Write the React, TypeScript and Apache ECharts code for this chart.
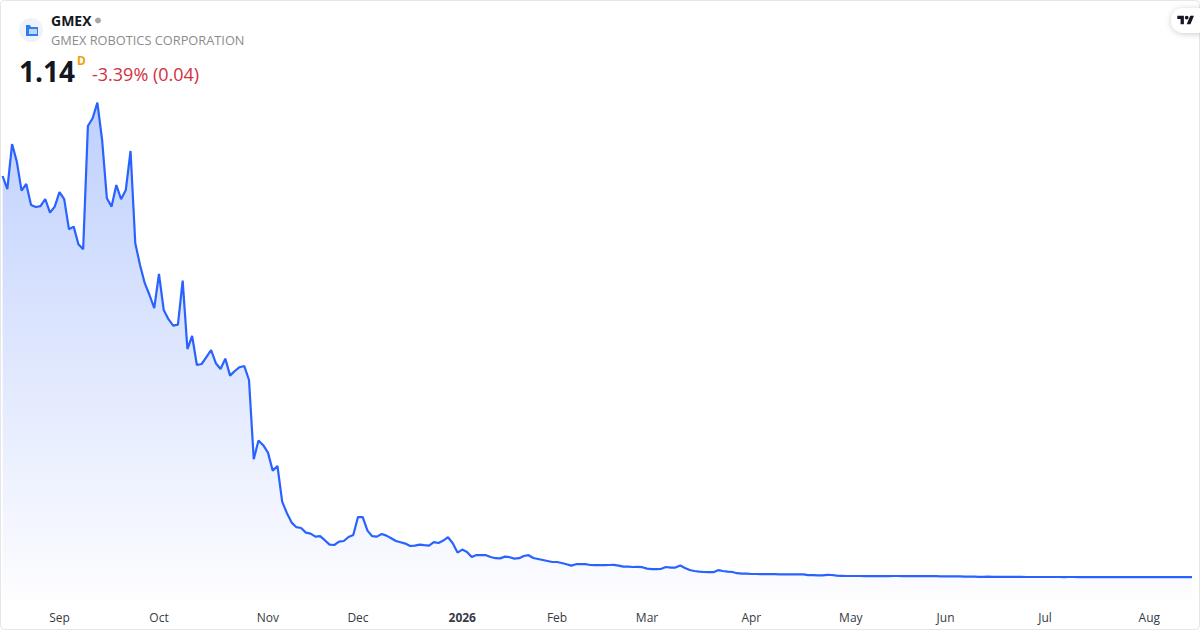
import React, { useEffect, useRef } from "react";
import * as echarts from "echarts";

const SYMBOL = "GMEX";
const COMPANY = "GMEX ROBOTICS CORPORATION";
const LAST_PRICE = "1.14";
const INTERVAL = "D";
const CHANGE = "-3.39% (0.04)";
const MONTHS = ["Jan", "Feb", "Mar", "Apr", "May", "Jun", "Jul", "Aug", "Sep", "Oct", "Nov", "Dec"];
const HOLIDAYS = ["2025-09-01", "2025-11-27", "2025-12-25", "2026-01-01", "2026-01-19", "2026-02-16", "2026-04-03", "2026-05-25", "2026-06-19", "2026-07-03"];
const FIRST_DAY = "2025-08-14";

const prices = [
  21.2, 20.54, 22.8, 21.92, 20.47, 20.8, 19.75, 19.65, 19.69, 20.05,
  19.37, 19.67, 20.39, 20.04, 18.54, 18.67, 17.79, 17.54, 23.7, 24.09,
  24.87, 23.0, 20.09, 19.67, 20.75, 20.04, 20.5, 22.45, 17.84, 16.75,
  15.84, 15.25, 14.59, 16.3, 14.5, 14.04, 13.72, 13.77, 15.97, 12.55,
  13.2, 11.75, 11.8, 12.14, 12.5, 11.84, 11.55, 12.07, 11.22, 11.45,
  11.64, 11.7, 11.0, 7.04, 7.97, 7.74, 7.37, 6.47, 6.7, 4.92,
  4.34, 3.87, 3.64, 3.6, 3.37, 3.32, 3.17, 3.19, 2.99, 2.77,
  2.75, 2.92, 2.95, 3.15, 3.25, 4.15, 4.14, 3.47, 3.19, 3.17,
  3.3, 3.22, 3.09, 2.95, 2.89, 2.82, 2.7, 2.72, 2.77, 2.74,
  2.72, 2.89, 2.85, 2.97, 3.14, 2.84, 2.37, 2.52, 2.4, 2.15,
  2.25, 2.24, 2.24, 2.15, 2.09, 2.08, 2.17, 2.14, 2.07, 2.09,
  2.2, 2.24, 2.1, 2.05, 2.0, 1.95, 1.9, 1.9, 1.85, 1.79,
  1.72, 1.79, 1.8, 1.79, 1.75, 1.74, 1.74, 1.74, 1.75, 1.76,
  1.72, 1.67, 1.67, 1.65, 1.66, 1.64, 1.57, 1.54, 1.54, 1.56,
  1.65, 1.62, 1.62, 1.72, 1.6, 1.5, 1.45, 1.42, 1.4, 1.39,
  1.39, 1.49, 1.45, 1.42, 1.4, 1.34, 1.32, 1.32, 1.3, 1.3,
  1.29, 1.29, 1.29, 1.29, 1.28, 1.28, 1.28, 1.28, 1.28, 1.28,
  1.24, 1.24, 1.23, 1.23, 1.26, 1.25, 1.22, 1.21, 1.2, 1.2,
  1.2, 1.2, 1.19, 1.19, 1.19, 1.2, 1.19, 1.19, 1.2, 1.2,
  1.19, 1.19, 1.19, 1.19, 1.2, 1.19, 1.19, 1.19, 1.18, 1.18,
  1.18, 1.18, 1.18, 1.17, 1.17, 1.17, 1.16, 1.16, 1.17, 1.16,
  1.16, 1.16, 1.16, 1.16, 1.16, 1.16, 1.15, 1.15, 1.15, 1.15,
  1.15, 1.15, 1.15, 1.15, 1.14, 1.15, 1.15, 1.14, 1.14, 1.14,
  1.14, 1.14, 1.14, 1.14, 1.14, 1.14, 1.14, 1.14, 1.14, 1.14,
  1.14, 1.14, 1.14, 1.14, 1.14, 1.14, 1.14, 1.14, 1.14, 1.14, 1.14, 1.14,
];

const iso = (d: Date) => d.toISOString().slice(0, 10);

// Trading days, one per price
const tradingDays: string[] = [];
for (let d = new Date(FIRST_DAY + "T00:00:00Z"); tradingDays.length < prices.length; d = new Date(d.getTime() + 86400000)) {
  const wd = d.getUTCDay();
  if (wd !== 0 && wd !== 6 && !HOLIDAYS.includes(iso(d))) tradingDays.push(iso(d));
}
const isMonthStart = (i: number) => i > 0 && tradingDays[i].slice(0, 7) !== tradingDays[i - 1].slice(0, 7);

const FONT = '"Open Sans", "Noto Sans", sans-serif';

echarts.graphic.registerShape(
  "tvLogo",
  echarts.graphic.extendPath("M14 22H7V11H0V4h14v18zM28 22h-8l7.5-18h8L28 22zM24 8a4 4 0 1 1-8 0 4 4 0 0 1 8 0z", {})
);

export default function App() {
  const ref = useRef<HTMLDivElement>(null);
  useEffect(() => {
    document.body.style.margin = "0";
    const chart = echarts.init(ref.current!, undefined, { renderer: "svg" });
    chart.setOption({
      animation: false,
      backgroundColor: "#ffffff",
      grid: { left: 2.6, right: 8, top: 0, bottom: 30 },
      xAxis: {
        type: "category",
        boundaryGap: false,
        data: tradingDays,
        axisLine: { show: false },
        axisTick: { show: false },
        splitLine: { show: false },
        axisLabel: {
          interval: (i: number) => isMonthStart(i),
          margin: 11,
          color: "#363a45",
          fontFamily: FONT,
          fontSize: 12,
          formatter: (v: string) => {
            const [y, m] = v.split("-");
            return m === "01" ? `{year|${y}}` : MONTHS[Number(m) - 1];
          },
          rich: { year: { fontWeight: "bold", fontSize: 12, fontFamily: FONT, color: "#363a45" } },
        },
      },
      yAxis: { type: "value", min: 0, max: 30, show: false, splitLine: { show: false } },
      series: [
        {
          type: "line",
          data: prices,
          symbol: "none",
          smooth: false,
          lineStyle: { color: "#2962ff", width: 2.2 },
          areaStyle: {
            origin: "start",
            opacity: 1,
            color: {
              type: "linear", x: 0, y: 0, x2: 0, y2: 1,
              colorStops: [
                { offset: 0, color: "#bfd0fd" },
                { offset: 0.35, color: "#d5e0fe" },
                { offset: 1, color: "#fdfdff" },
              ],
            },
          },
        },
      ],
      graphic: [
        { type: "rect", silent: true, z: 100, shape: { x: 0.5, y: 0.5, width: 1199, height: 629, r: 4 }, style: { fill: "none", stroke: "#e6e6e6", lineWidth: 1 } },
        { type: "circle", z: 101, shape: { cx: 31, cy: 30, r: 12 }, style: { fill: "#eef2fb" } },
        { type: "polygon", z: 102, shape: { points: [[26, 25], [30, 25], [31, 27], [38, 27], [38, 36], [26, 36]] }, style: { fill: "#2f7bf0" } },
        { type: "rect", z: 103, shape: { x: 29, y: 29, width: 8, height: 5 }, style: { fill: "#bcd6fa" } },
        { type: "text", z: 101, x: 51, y: 20, style: { text: SYMBOL, fill: "#131722", font: `bold 14px ${FONT}`, verticalAlign: "middle" } },
        { type: "circle", z: 101, shape: { cx: 98, cy: 20.5, r: 3 }, style: { fill: "#a6a6a6" } },
        { type: "text", z: 101, x: 51, y: 40, style: { text: COMPANY, fill: "#8c8c8c", font: `12.8px ${FONT}`, verticalAlign: "middle" } },
        { type: "text", z: 101, x: 19, y: 71, style: { text: LAST_PRICE, fill: "#131722", font: `bold 28px ${FONT}`, verticalAlign: "middle" } },
        { type: "text", z: 101, x: 77, y: 60, style: { text: INTERVAL, fill: "#f59e0b", font: `bold 12px ${FONT}`, verticalAlign: "middle" } },
        { type: "text", z: 101, x: 92, y: 74, style: { text: CHANGE, fill: "#d32f3f", font: `18px ${FONT}`, verticalAlign: "middle" } },
        { type: "rect", z: 101, shape: { x: 1171, y: 8, width: 40, height: 25, r: 12.5 }, style: { fill: "#ffffff", shadowBlur: 6, shadowColor: "rgba(0,0,0,0.2)", shadowOffsetY: 1 } },
        { type: "tvLogo", z: 102, x: 1177.3, y: 13.8, scaleX: 0.47, scaleY: 0.47, style: { fill: "#131722" } },
      ],
    });
    return () => chart.dispose();
  }, []);
  return <div ref={ref} style={{ width: 1200, height: 630 }} />;
}
